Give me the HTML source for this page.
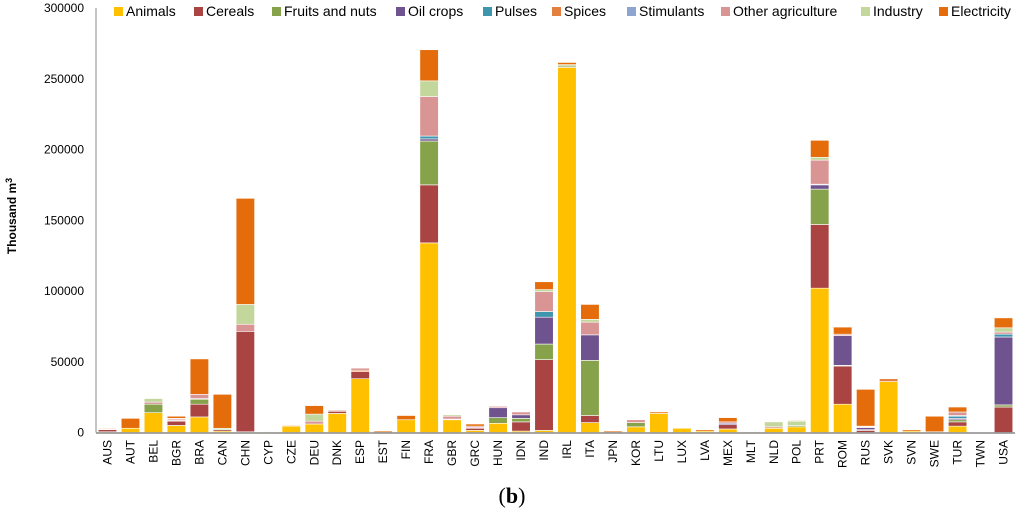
<!DOCTYPE html>
<html><head><meta charset="utf-8"><style>
body{margin:0;background:#fff;}
svg{display:block;font-family:"Liberation Sans",sans-serif;}
</style></head><body>
<svg id="chart" width="1024" height="517" viewBox="0 0 1024 517"></svg>
<script>
const categories=["AUS","AUT","BEL","BGR","BRA","CAN","CHN","CYP","CZE","DEU","DNK","ESP","EST","FIN","FRA","GBR","GRC","HUN","IDN","IND","IRL","ITA","JPN","KOR","LTU","LUX","LVA","MEX","MLT","NLD","POL","PRT","ROM","RUS","SVK","SVN","SWE","TUR","TWN","USA"];
const seriesNames=["Animals","Cereals","Fruits and nuts","Oil crops","Pulses","Spices","Stimulants","Other agriculture","Industry","Electricity"];
const animals=[500,3000,14000,5000,11000,1000,500,500,4500,6000,13500,38000,0,9000,134000,9000,1500,6500,1000,1500,258000,7000,0,4000,13500,3000,1000,2500,500,3000,4000,102000,20000,0,36000,1000,500,4500,0,0];
const cereals=[1500,0,0,3000,9000,1000,71000,0,0,0,1500,5000,0,0,41000,0,1500,0,6500,50000,0,5000,0,0,0,0,0,3000,0,0,0,45000,27000,1500,0,0,0,3000,0,18000];
const fruits=[0,0,6000,0,3500,0,0,300,0,0,0,0,0,0,31000,0,500,4000,2500,11000,1000,39000,0,3000,0,0,0,0,0,0,1000,25000,500,500,0,0,0,1500,0,1500];
const oil=[0,0,0,0,500,0,0,0,0,0,0,0,0,0,1500,0,0,7000,2500,19000,0,18000,0,0,0,0,0,1000,0,0,0,3000,21000,1500,0,0,0,1000,0,48000];
const pulses=[0,0,0,0,0,0,0,0,0,0,0,0,0,0,2000,0,0,0,0,4000,0,0,0,0,0,0,0,0,0,0,0,500,0,0,0,0,0,1500,0,2000];
const spices=[0,0,0,500,0,0,0,0,500,0,0,1000,0,0,0,500,0,0,0,0,0,0,0,0,0,0,0,0,0,0,0,0,0,0,2000,0,0,0,0,0];
const stimulants=[0,0,0,0,0,0,0,0,0,0,0,0,0,0,0,0,0,0,0,0,0,0,0,0,0,0,0,0,0,0,0,0,0,0,0,0,0,500,0,0];
const otherAgri=[500,0,1500,1000,3000,0,5000,0,0,2000,700,1500,0,0,28000,2000,1000,1000,2000,14000,0,9000,0,2000,0,0,0,1000,0,1000,0,17000,1000,500,0,0,0,2500,0,1500];
const industry=[0,0,2500,500,0,1000,14000,0,0,5000,0,0,0,0,11000,1000,0,0,0,1500,1000,2000,0,0,0,0,0,0,0,3500,3000,2000,0,500,0,0,0,0,0,3000];
const electricity=[500,7000,0,1500,25000,24000,75000,0,500,6000,0,0,1000,3000,22000,0,1500,0,0,5500,1500,10500,1000,0,1000,0,1000,3000,0,0,500,12000,5000,26000,0,1000,11000,3500,0,7000];
const yTicks=[0,50000,100000,150000,200000,250000,300000];
const series=[animals,cereals,fruits,oil,pulses,spices,stimulants,otherAgri,industry,electricity];
const colors=["#FFC000","#A94442","#86A24A","#6F538F","#3D96AE","#E2803F","#8EA5D2","#D99594","#C3D69B","#E46C0A"];
const legendX=[118,198,276,400,487,556,631,725,865,943];

const NS="http://www.w3.org/2000/svg";
const svg=document.getElementById('chart');
function mk(tag,attrs,parent){const e=document.createElementNS(NS,tag);for(const k in attrs)e.setAttribute(k,attrs[k]);(parent||svg).appendChild(e);return e;}
const X0=96,X1=1015,Y0=432.5,Y1=8,YMAX=300000;
const band=(X1-X0)/categories.length;
function xs(i){return X0+band*(i+0.5);}
function ys(v){return Y0-(v/YMAX)*(Y0-Y1);}

const yax=mk('line',{x1:X0,y1:Y1,x2:X0,y2:Y0,stroke:'#888','stroke-width':1});


yTicks.forEach(t=>{
  const tx=mk('text',{x:84,y:ys(t)+4,'text-anchor':'end','font-size':12,fill:'#000'});
  tx.textContent=t;
  
  
});
const yt=mk('text',{x:0,y:0,transform:'translate(16,216) rotate(-90)','text-anchor':'middle','font-size':12,'font-weight':'bold',fill:'#000'});
yt.innerHTML='Thousand  m<tspan font-size="9" dy="-4">3</tspan>';



const bw=18.5;
categories.forEach((c,i)=>{
  let acc=0;
  series.forEach((s,k)=>{
    const v=s[i];
    if(v<=0)return;
    const yTop=ys(acc+v),yBot=ys(acc);
    const r=mk('rect',{x:xs(i)-bw/2,y:yTop,width:bw,height:Math.max(yBot-yTop,0.5),fill:colors[k],stroke:'#fff','stroke-width':0.6});
    
    
    acc+=v;
  });
  const lb=mk('text',{x:0,y:0,transform:`translate(${xs(i)+4},440) rotate(-90)`,'text-anchor':'end','font-size':12,fill:'#000'});
  lb.textContent=c;
  
  
});
const xax=mk('line',{x1:X0,y1:Y0+0.5,x2:X1,y2:Y0+0.5,stroke:'#888','stroke-width':1.5});



seriesNames.forEach((n,k)=>{
  const g=mk('g',{});
  
  
  mk('rect',{x:legendX[k]-4,y:7,width:9,height:9,fill:colors[k]},g);
  const t=mk('text',{x:legendX[k]+8,y:16,'font-size':14,fill:'#000'},g);
  t.textContent=n;
});

const cap=mk('text',{x:512,y:503,'text-anchor':'middle','font-size':22,'font-family':'Liberation Serif, serif',fill:'#000'});
cap.innerHTML='(<tspan font-weight="bold">b</tspan>)';


</script>
</body></html>
